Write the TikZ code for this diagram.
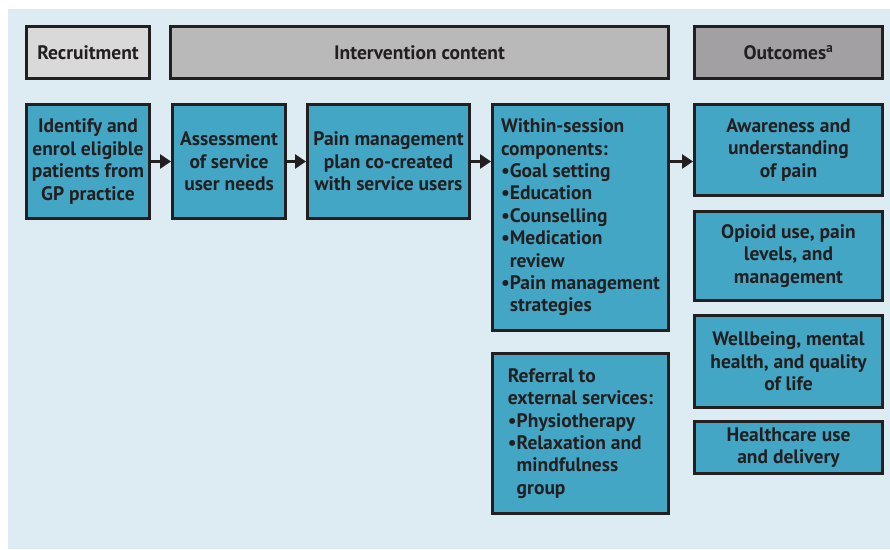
\documentclass[tikz,border=0pt]{standalone}
\usepackage{fontspec}
\setmainfont{PT Sans}
\usetikzlibrary{arrows.meta}
\definecolor{panelbg}{HTML}{DDEBF2}
\definecolor{boxblue}{HTML}{44A6C5}
\definecolor{recgray}{HTML}{D9D9D9}
\definecolor{intgray}{HTML}{B9B9B9}
\definecolor{outgray}{HTML}{A2A0A3}
\definecolor{ink}{HTML}{231F20}
\tikzset{
  box/.style={draw=ink, line width=3pt, fill=boxblue, text=ink, inner sep=0pt,
    font=\fontsize{19.5}{22.4}\selectfont\bfseries, align=center},
  head/.style={box},
  flow/.style={draw=ink, line width=3.5pt, -{Triangle[length=11pt,width=14pt]}}
}
\begin{document}
\begin{tikzpicture}[x=1pt,y=-1pt]
\useasboundingbox (0,0) rectangle (890,549);
\fill[panelbg] (8,9) rectangle (890,549);
% headers
\node[head, fill=recgray, minimum width=123pt, minimum height=52pt] (rec) at (88,52.5) {Recruitment};
\node[head, fill=intgray, minimum width=498pt, minimum height=52pt] (int) at (419.5,52.5) {Intervention content};
\node[head, fill=outgray, minimum width=188pt, minimum height=52pt] (out) at (788.5,52.5) {Outcomes\textsuperscript{a}};
% flow boxes
\node[box, minimum width=123pt, minimum height=114pt] (idn) at (88,161.5) {Identify and\\enrol eligible\\patients from\\GP practice};
\node[box, minimum width=113pt, minimum height=114pt] (ass) at (229,161.5) {Assessment\\of service\\user needs};
\node[box, minimum width=162pt, minimum height=114pt] (pmp) at (388.5,161.5) {Pain management\\plan co-created\\with service users};
\node[box, align=left, minimum width=176pt, minimum height=226pt] (ws) at (580.5,217.5) {Within-session\\components:\\\textbullet Goal setting\\\textbullet Education\\\textbullet Counselling\\\textbullet Medication\\\phantom{\textbullet}review\\\textbullet Pain management\\\phantom{\textbullet}strategies};
\node[box, align=left, minimum width=176pt, minimum height=160pt] (ref) at (580.5,433.5) {Referral to\\external services:\\\textbullet Physiotherapy\\\textbullet Relaxation and\\\phantom{\textbullet}mindfulness\\\phantom{\textbullet}group};
% outcomes
\node[box, minimum width=188pt, minimum height=91pt] (aw) at (788.5,150) {Awareness and\\understanding\\of pain};
\node[box, minimum width=188pt, minimum height=89pt] (op) at (788.5,256) {Opioid use, pain\\levels, and\\management};
\node[box, minimum width=188pt, minimum height=92pt] (wb) at (788.5,361.5) {Wellbeing, mental\\health, and quality\\of life};
\node[box, minimum width=188pt, minimum height=52pt] (hc) at (788.5,447.5) {Healthcare use\\and delivery};
% arrows
\draw[flow] (idn.east) -- (ass.west);
\draw[flow] (ass.east) -- (pmp.west);
\draw[flow] (pmp.east) -- (ws.west |- pmp.east);
\draw[flow] (ws.east |- pmp.east) -- (aw.west |- pmp.east);
\end{tikzpicture}
\end{document}
